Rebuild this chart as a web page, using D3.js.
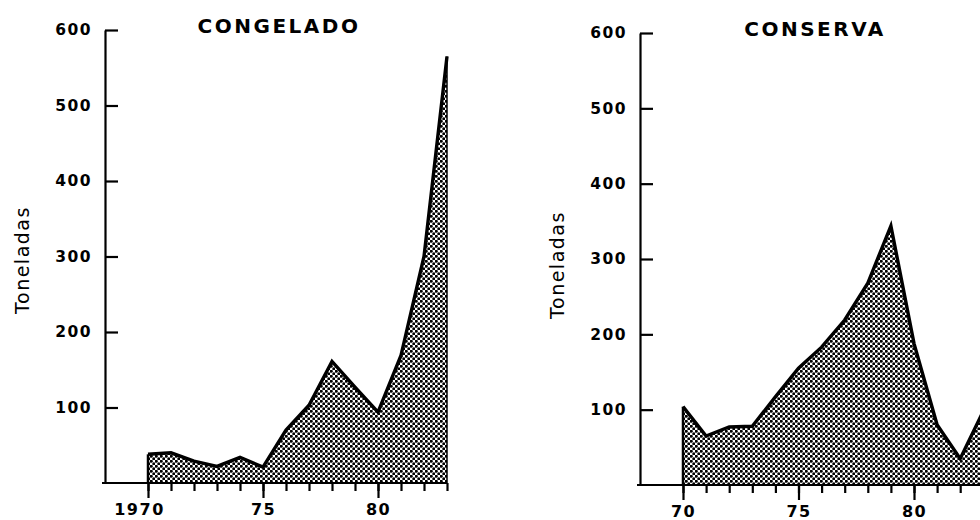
<!DOCTYPE html>
<html>
<head>
<meta charset="utf-8">
<script src="https://cdn.jsdelivr.net/npm/d3@7"></script>
<style>
  html, body { margin: 0; padding: 0; background: #fff; }
  svg { display: block; }
  .tick text { font-family: "DejaVu Sans", sans-serif; font-weight: bold; }
</style>
</head>
<body>
<svg id="chart" width="980" height="520"></svg>
<script>
// ---- data ----
const years = [1970,1971,1972,1973,1974,1975,1976,1977,1978,1979,1980,1981,1982,1983];
const congelado = [38,40,29,22,34,21,70,103,161,127,94,169,300,565];
const conserva  = [104,65,77,78,117,155,183,219,268,344,188,80,35,98];
const yTicks = [100,200,300,400,500,600];
const leftTitle = "CONGELADO";
const rightTitle = "CONSERVA";
const yLabel = "Toneladas";
const leftMajor = [1970,1975,1980];
const leftMajorLabels = ["1970","75","80"];
const rightMajor = [1970,1975,1980];
const rightMajorLabels = ["70","75","80"];

const svg = d3.select("#chart");

// dot pattern
const defs = svg.append("defs");
const pat = defs.append("pattern").attr("id","dots")
  .attr("patternUnits","userSpaceOnUse").attr("width",5).attr("height",5);
pat.append("rect").attr("width",5).attr("height",5).attr("fill","#fff");
pat.append("circle").attr("cx",1.25).attr("cy",1.25).attr("r",1.5).attr("fill","#000");
pat.append("circle").attr("cx",3.75).attr("cy",3.75).attr("r",1.5).attr("fill","#000");

function panel(cfg) {
  const g = svg.append("g");
  const x = d3.scaleLinear().domain(cfg.xDomain).range(cfg.xRange);
  const y = d3.scaleLinear().domain([0,600]).range(cfg.yRange);
  const data = years.map((yr,i)=>({yr, v: cfg.values[i]}));

  // area
  const area = d3.area().x(d=>x(d.yr)).y0(y(0)).y1(d=>y(d.v));
  g.append("path").datum(data).attr("d",area).attr("fill","url(#dots)");
  // vertical edges
  g.append("line").attr("x1",x(years[0])).attr("x2",x(years[0]))
    .attr("y1",y(0)).attr("y2",y(data[0].v)).attr("stroke","#000").attr("stroke-width",2.5);
  g.append("line").attr("x1",x(years[years.length-1])).attr("x2",x(years[years.length-1]))
    .attr("y1",y(0)).attr("y2",y(data[data.length-1].v)).attr("stroke","#000").attr("stroke-width",1.5);
  // top line
  const line = d3.line().x(d=>x(d.yr)).y(d=>y(d.v));
  g.append("path").datum(data).attr("d",line).attr("fill","none")
    .attr("stroke","#000").attr("stroke-width",3.4).attr("stroke-linejoin","miter");

  // y axis (ticks point inward)
  const ya = g.append("g").attr("transform",`translate(${cfg.axisX},0)`)
    .call(d3.axisLeft(y).tickValues(yTicks).tickSizeInner(-13).tickSizeOuter(0).tickPadding(13)
      .tickFormat(d=>String(d)));
  ya.select(".domain").attr("stroke","#000").attr("stroke-width",2.2);
  ya.selectAll(".tick line").attr("stroke","#000").attr("stroke-width",2.2);
  ya.selectAll(".tick text").attr("font-size",15.5).attr("letter-spacing",1.5).attr("fill","#000");

  // x baseline
  g.append("line").attr("x1",cfg.axisX-3).attr("x2",cfg.baseEnd)
    .attr("y1",y(0)).attr("y2",y(0)).attr("stroke","#000").attr("stroke-width",2.2);

  // minor x ticks
  const xm = g.append("g").attr("transform",`translate(0,${y(0)})`)
    .call(d3.axisBottom(x).tickValues(cfg.minor).tickSize(8).tickFormat(""));
  xm.select(".domain").remove();
  xm.selectAll(".tick line").attr("stroke","#000").attr("stroke-width",2.2);

  // major x ticks
  const xM = g.append("g").attr("transform",`translate(0,${y(0)})`)
    .call(d3.axisBottom(x).tickValues(cfg.major).tickSize(15).tickPadding(6)
      .tickFormat((d,i)=>cfg.majorLabels[i]));
  xM.select(".domain").remove();
  xM.selectAll(".tick line").attr("stroke","#000").attr("stroke-width",2.2);
  xM.selectAll(".tick text").attr("font-size",16).attr("letter-spacing",1.5).attr("fill","#000")
    .attr("dx",(d,i)=>cfg.majorLabels[i].length>2 ? -9 : 0);

  // title
  g.append("text").attr("x",cfg.titleX).attr("y",cfg.titleY).attr("text-anchor","middle")
    .attr("font-family","DejaVu Sans, sans-serif").attr("font-weight","bold")
    .attr("font-size",20).attr("letter-spacing",2.5).text(cfg.title);

  // y label
  g.append("text").attr("transform",`translate(${cfg.labelX},${cfg.labelY}) rotate(-90)`)
    .attr("text-anchor","middle").attr("font-family","DejaVu Sans, sans-serif")
    .attr("font-size",19).attr("letter-spacing",1.5).text(yLabel);
}

panel({
  values: congelado, xDomain:[1970,1983], xRange:[148,447], yRange:[483,30],
  axisX:105, baseEnd:447, minor: years, major: leftMajor, majorLabels: leftMajorLabels,
  title: leftTitle, titleX: 279, titleY: 33, labelX: 29, labelY: 260
});
panel({
  values: conserva, xDomain:[1970,1980], xRange:[683,914], yRange:[485,33],
  axisX:640, baseEnd:990, minor: d3.range(1970,1986), major: rightMajor, majorLabels: rightMajorLabels,
  title: rightTitle, titleX: 815, titleY: 36, labelX: 564, labelY: 265
});
</script>
</body>
</html>
